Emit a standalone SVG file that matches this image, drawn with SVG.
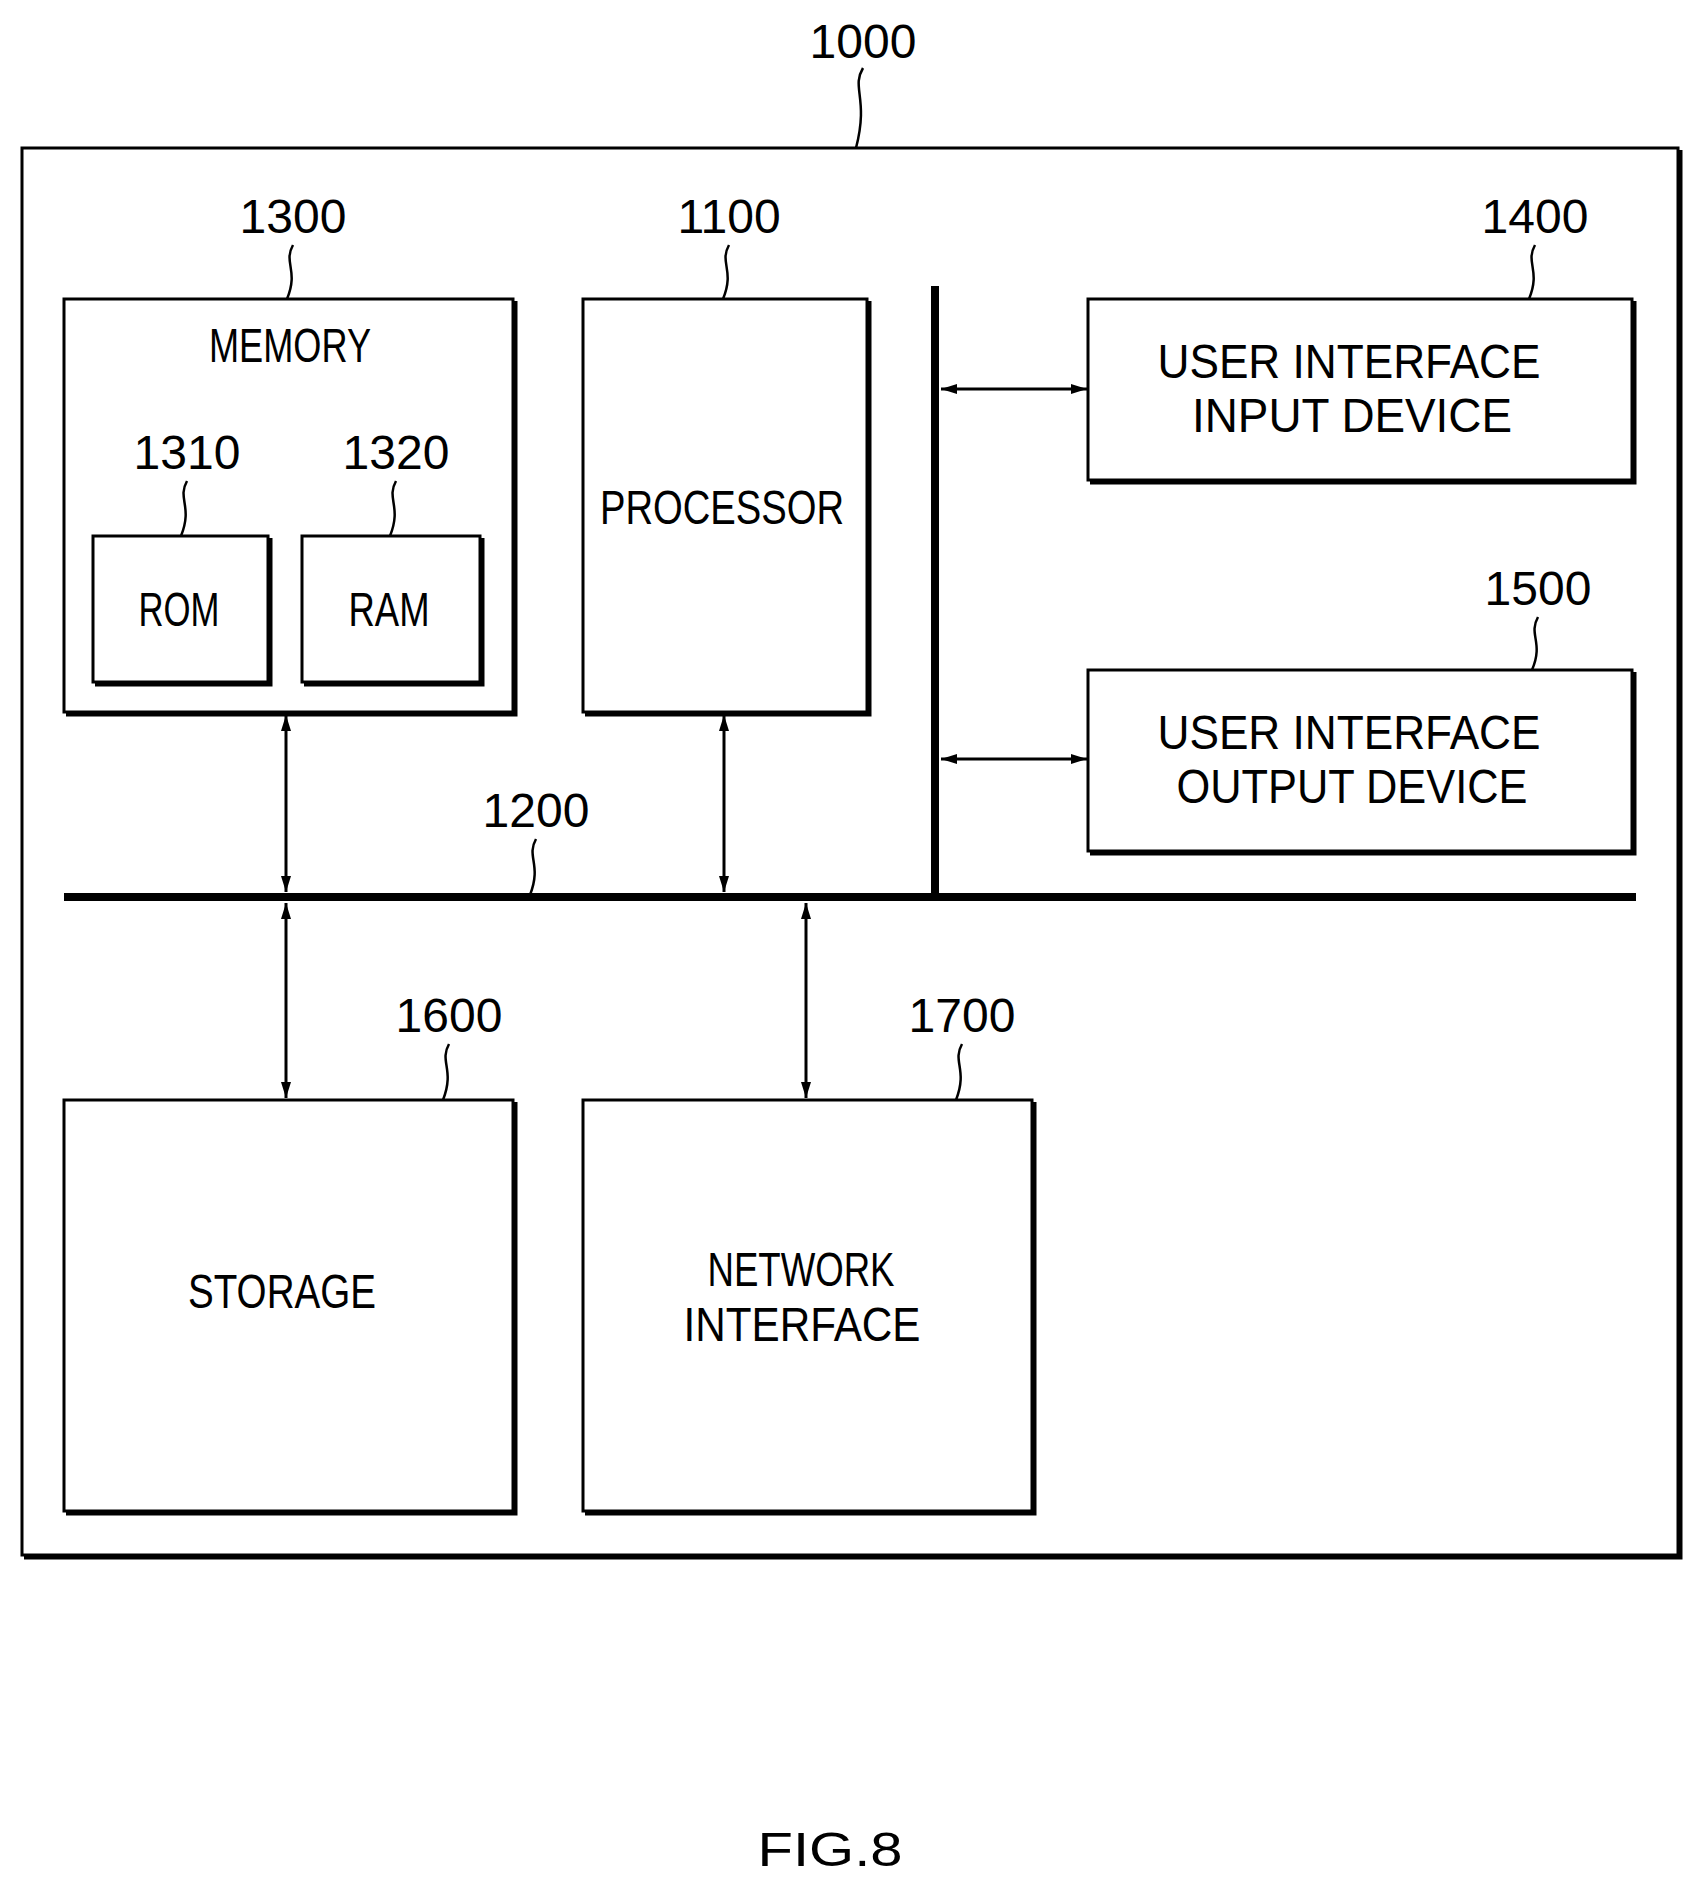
<svg xmlns="http://www.w3.org/2000/svg" width="1702" height="1893" viewBox="0 0 1702 1893">
<defs>
<style>
.b{fill:#fff;stroke:#000;stroke-width:3}
.s{fill:none;stroke:#000;stroke-width:5}
.t{font-family:"Liberation Sans",Arial,sans-serif;font-size:48px;text-anchor:middle;fill:#000}
.l{fill:none;stroke:#000;stroke-width:2.5}
.a{stroke:#000;stroke-width:3;marker-start:url(#ah);marker-end:url(#ah)}
</style>
<marker id="ah" viewBox="0 0 16 12" refX="16" refY="6" markerWidth="16" markerHeight="12" orient="auto-start-reverse" markerUnits="userSpaceOnUse"><path d="M0,1 L16,6 L0,11 Z" fill="#000"/></marker>
</defs>
<rect width="1702" height="1893" fill="#fff"/>
<g id="n1000">
<rect class="b" x="22" y="148" width="1656" height="1407"/>
<path class="s" d="M1680,150 V1557 H24"/>
<text class="t" x="863" y="58">1000</text>
<path class="l" d="M863,68 c-12,20 6,30 -7,80"/>
</g>
<g id="n1300">
<rect class="b" x="64" y="299" width="449" height="413"/>
<path class="s" d="M515,301 V714 H66"/>
<text class="t" x="290" y="362" textLength="162" lengthAdjust="spacingAndGlyphs">MEMORY</text>
<text class="t" x="293" y="233">1300</text>
<path class="l" d="M293,245 c-10,18 6,25 -6,54"/>
</g>
<g id="n1310">
<rect class="b" x="93" y="536" width="175" height="146"/>
<path class="s" d="M270,538 V684 H95"/>
<text class="t" x="179" y="626" textLength="81" lengthAdjust="spacingAndGlyphs">ROM</text>
<text class="t" x="187" y="469">1310</text>
<path class="l" d="M187,481 c-10,18 6,25 -6,55"/>
</g>
<g id="n1320">
<rect class="b" x="302" y="536" width="178" height="146"/>
<path class="s" d="M482,538 V684 H304"/>
<text class="t" x="389" y="626" textLength="81" lengthAdjust="spacingAndGlyphs">RAM</text>
<text class="t" x="396" y="469">1320</text>
<path class="l" d="M396,481 c-10,18 6,25 -6,55"/>
</g>
<g id="n1100">
<rect class="b" x="583" y="299" width="284" height="413"/>
<path class="s" d="M869,301 V714 H585"/>
<text class="t" x="722" y="524" textLength="244" lengthAdjust="spacingAndGlyphs">PROCESSOR</text>
<text class="t" x="729" y="233">1100</text>
<path class="l" d="M729,245 c-10,18 6,25 -6,54"/>
</g>
<g id="n1400">
<rect class="b" x="1088" y="299" width="544" height="181"/>
<path class="s" d="M1634,301 V482 H1090"/>
<text class="t" x="1349" y="378" textLength="383" lengthAdjust="spacingAndGlyphs">USER INTERFACE</text>
<text class="t" x="1352" y="432" textLength="320" lengthAdjust="spacingAndGlyphs">INPUT DEVICE</text>
<text class="t" x="1535" y="233">1400</text>
<path class="l" d="M1535,245 c-10,18 6,25 -6,54"/>
</g>
<g id="n1500">
<rect class="b" x="1088" y="670" width="544" height="181"/>
<path class="s" d="M1634,672 V853 H1090"/>
<text class="t" x="1349" y="749" textLength="383" lengthAdjust="spacingAndGlyphs">USER INTERFACE</text>
<text class="t" x="1352" y="803" textLength="351" lengthAdjust="spacingAndGlyphs">OUTPUT DEVICE</text>
<text class="t" x="1538" y="605">1500</text>
<path class="l" d="M1538,617 c-10,18 6,25 -6,53"/>
</g>
<g id="n1600">
<rect class="b" x="64" y="1100" width="449" height="411"/>
<path class="s" d="M515,1102 V1513 H66"/>
<text class="t" x="282" y="1308" textLength="188" lengthAdjust="spacingAndGlyphs">STORAGE</text>
<text class="t" x="449" y="1032">1600</text>
<path class="l" d="M449,1044 c-10,18 6,25 -6,56"/>
</g>
<g id="n1700">
<rect class="b" x="583" y="1100" width="449" height="411"/>
<path class="s" d="M1034,1102 V1513 H585"/>
<text class="t" x="801" y="1286" textLength="187" lengthAdjust="spacingAndGlyphs">NETWORK</text>
<text class="t" x="802" y="1341" textLength="237" lengthAdjust="spacingAndGlyphs">INTERFACE</text>
<text class="t" x="962" y="1032">1700</text>
<path class="l" d="M962,1044 c-10,18 6,25 -6,56"/>
</g>
<g id="n1200">
<rect x="64" y="893" width="1572" height="8" fill="#000"/>
<rect x="931" y="286" width="8" height="611" fill="#000"/>
<text class="t" x="536" y="827">1200</text>
<path class="l" d="M536,839 c-10,18 6,25 -6,56"/>
</g>
<g id="connectors">
<line class="a" x1="286" y1="715" x2="286" y2="892"/>
<line class="a" x1="724" y1="715" x2="724" y2="892"/>
<line class="a" x1="286" y1="903" x2="286" y2="1098"/>
<line class="a" x1="806" y1="903" x2="806" y2="1098"/>
<line class="a" x1="941" y1="389" x2="1087" y2="389"/>
<line class="a" x1="941" y1="759" x2="1087" y2="759"/>
</g>
<text class="t" x="830" y="1866" textLength="145" lengthAdjust="spacingAndGlyphs">FIG.8</text>
</svg>
